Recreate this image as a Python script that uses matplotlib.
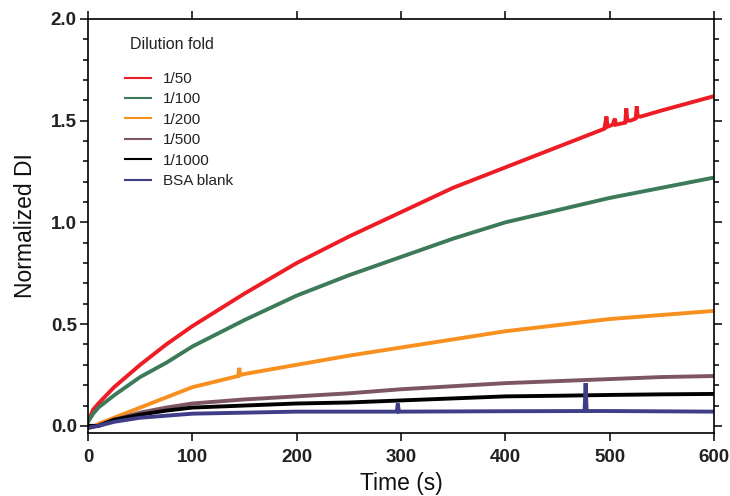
import numpy as np
import matplotlib.pyplot as plt
from matplotlib.ticker import MultipleLocator

plt.rcParams['font.family'] = ['Liberation Sans', 'DejaVu Sans']

# values
t_red = [0, 5, 10, 25, 50, 75, 100, 150, 200, 250, 300, 350, 400, 450, 495, 497, 498, 503, 505, 506, 515, 516, 517, 520, 525, 526, 527, 530, 550, 600]
y_red = [0.02, 0.08, 0.11, 0.19, 0.30, 0.40, 0.49, 0.65, 0.80, 0.93, 1.05, 1.17, 1.27, 1.37, 1.46, 1.52, 1.47, 1.48, 1.51, 1.48, 1.49, 1.56, 1.50, 1.50, 1.51, 1.57, 1.52, 1.52, 1.55, 1.62]
t_green = [0, 5, 10, 25, 50, 75, 100, 150, 200, 250, 300, 350, 400, 450, 500, 550, 600]
y_green = [0.02, 0.06, 0.09, 0.15, 0.24, 0.31, 0.39, 0.52, 0.64, 0.74, 0.83, 0.92, 1.00, 1.06, 1.12, 1.17, 1.22]
t_orange = [0, 5, 10, 25, 50, 75, 100, 144, 145, 146, 150, 200, 250, 300, 350, 400, 450, 500, 550, 600]
y_orange = [-0.01, -0.005, 0.01, 0.04, 0.09, 0.14, 0.19, 0.245, 0.285, 0.25, 0.255, 0.30, 0.345, 0.385, 0.425, 0.465, 0.495, 0.525, 0.545, 0.565]
t_brown = [0, 10, 25, 50, 75, 100, 150, 200, 250, 300, 350, 400, 450, 500, 550, 600]
y_brown = [0.0, 0.0, 0.03, 0.065, 0.09, 0.11, 0.13, 0.145, 0.16, 0.18, 0.195, 0.21, 0.22, 0.23, 0.24, 0.245]
t_black = [0, 10, 25, 50, 75, 100, 150, 200, 250, 300, 350, 400, 450, 500, 550, 600]
y_black = [0.0, 0.0, 0.03, 0.055, 0.075, 0.09, 0.10, 0.11, 0.115, 0.125, 0.135, 0.145, 0.148, 0.152, 0.155, 0.157]
t_blue = [0, 10, 25, 50, 75, 100, 150, 200, 296, 297, 298, 400, 476, 477, 478, 500, 600]
y_blue = [-0.01, 0.0, 0.02, 0.04, 0.05, 0.06, 0.065, 0.07, 0.07, 0.11, 0.07, 0.072, 0.073, 0.21, 0.073, 0.073, 0.07]

labels = ["1/50", "1/100", "1/200", "1/500", "1/1000", "BSA blank"]
colors = ["#ee1c25", "#3d7a5a", "#f7901e", "#7d5563", "#000000", "#3f3c88"]

fig = plt.figure(figsize=(7.3, 4.96), dpi=100)
ax = fig.add_axes([0.1205, 0.127, 0.8575, 0.835])

series = [(t_red, y_red), (t_green, y_green), (t_orange, y_orange),
          (t_brown, y_brown), (t_black, y_black), (t_blue, y_blue)]
for (t, y), c, lab in zip(series, colors, labels):
    ax.plot(t, y, color=c, lw=2.8, label=lab, solid_joinstyle="miter")

ax.set_xlim(0, 600)
ax.set_ylim(-0.035, 2.0)
ax.xaxis.set_major_locator(MultipleLocator(100))
ax.yaxis.set_major_locator(MultipleLocator(0.5))
ax.yaxis.set_minor_locator(MultipleLocator(0.1))
ax.yaxis.set_major_formatter(lambda v, p: f"{v:.1f}")

ax.tick_params(axis="both", which="both", direction="out", width=1.1)
ax.tick_params(axis="x", which="major", length=6, top=True, labelsize=13.5, pad=5.5)
ax.tick_params(axis="y", which="major", length=6, right=True, labelsize=13.5, pad=2)
ax.tick_params(axis="y", which="minor", length=3.5, right=True)
for lbl in ax.get_xticklabels() + ax.get_yticklabels():
    lbl.set_fontweight("bold")
    lbl.set_color("#222222")
for s in ax.spines.values():
    s.set_linewidth(1.2)

ax.set_xlabel("Time (s)", fontsize=16.5, labelpad=4, color="#111111")
ax.set_ylabel("Normalized DI", fontsize=16.5, labelpad=10, color="#111111")

ax.text(0.067, 0.937, "Dilution fold", transform=ax.transAxes, fontsize=11.5,
        va="center", ha="left", color="#222222")
leg = ax.legend(loc="upper left", bbox_to_anchor=(0.059, 0.872), borderaxespad=0,
                borderpad=0, frameon=False, fontsize=11, handlelength=1.7,
                handletextpad=0.8, labelspacing=0.42)
for line in leg.get_lines():
    line.set_linewidth(1.5)
for txt in leg.get_texts():
    txt.set_color("#222222")

fig.savefig("out.png", dpi=100)
